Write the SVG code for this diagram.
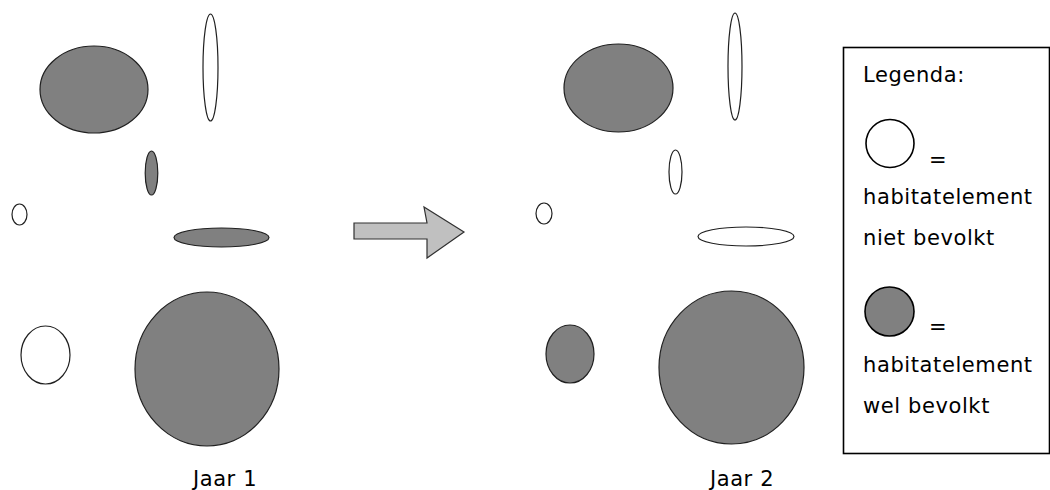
<svg xmlns="http://www.w3.org/2000/svg" width="1050" height="490" viewBox="0 0 1050 490">
<style>
.lbl{font-family:"DejaVu Sans","Liberation Sans",sans-serif;font-size:21px;fill:#000;letter-spacing:0.6px}
.full{fill:#808080;stroke:#202020;stroke-width:1.2}
.empty{fill:#fff;stroke:#202020;stroke-width:1.2}
.leg{stroke:#000;stroke-width:1.6}
</style>
<rect width="1050" height="490" fill="#fff"/>
<g id="year1">
<ellipse id="y1-a" class="full" cx="94" cy="89.5" rx="54" ry="43.5"/>
<ellipse id="y1-b" class="empty" cx="210.5" cy="67.5" rx="7.5" ry="53.5"/>
<ellipse id="y1-c" class="full" cx="151.5" cy="173" rx="6.3" ry="22"/>
<ellipse id="y1-d" class="empty" cx="19.5" cy="214.5" rx="7.5" ry="10.5"/>
<ellipse id="y1-e" class="full" cx="221.5" cy="237.5" rx="47.5" ry="9.5"/>
<ellipse id="y1-f" class="empty" cx="45.5" cy="355" rx="24.5" ry="29"/>
<ellipse id="y1-g" class="full" cx="207" cy="369" rx="72" ry="77"/>
<text class="lbl" x="225" y="486" text-anchor="middle">Jaar 1</text>
</g>
<g id="year2">
<ellipse id="y2-a" class="full" cx="618.5" cy="88" rx="54.5" ry="44"/>
<ellipse id="y2-b" class="empty" cx="735" cy="66.5" rx="7" ry="53.5"/>
<ellipse id="y2-c" class="empty" cx="675.5" cy="172" rx="6.5" ry="22"/>
<ellipse id="y2-d" class="empty" cx="544" cy="213.5" rx="8" ry="10.5"/>
<ellipse id="y2-e" class="empty" cx="746" cy="236.5" rx="48" ry="9.5"/>
<ellipse id="y2-f" class="full" cx="570" cy="354" rx="24" ry="29"/>
<ellipse id="y2-g" class="full" cx="731.5" cy="367.5" rx="72.5" ry="76.5"/>
<text class="lbl" x="742" y="486" text-anchor="middle">Jaar 2</text>
</g>
<g id="connectors">
<polygon id="arrow" points="354,223 427,223 424,207 464,232 427,258 427,239 354,239" fill="#c0c0c0" stroke="#303030" stroke-width="1.2"/>
</g>
<g id="legend">
<rect x="843.5" y="47.5" width="206" height="406" fill="#fff" stroke="#000" stroke-width="1.6"/>
<text class="lbl" x="863" y="82">Legenda:</text>
<circle class="leg" cx="890" cy="143.5" r="24" fill="#fff"/>
<text class="lbl" x="929" y="167">=</text>
<text class="lbl" x="863" y="204">habitatelement</text>
<text class="lbl" x="863" y="245">niet bevolkt</text>
<circle class="leg" cx="889.5" cy="311.5" r="24.5" fill="#808080"/>
<text class="lbl" x="929" y="334">=</text>
<text class="lbl" x="863" y="372">habitatelement</text>
<text class="lbl" x="863" y="413">wel bevolkt</text>
</g>
</svg>
